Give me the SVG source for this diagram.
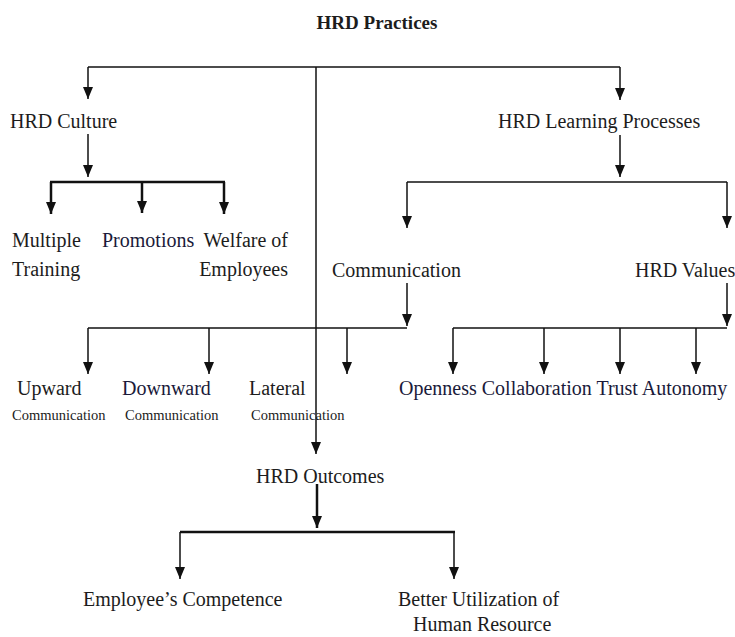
<svg xmlns="http://www.w3.org/2000/svg" width="735" height="637" viewBox="0 0 735 637">
<defs>
<marker id="ah" viewBox="0 0 12 10" refX="12" refY="5" markerWidth="12" markerHeight="10" markerUnits="userSpaceOnUse" orient="auto">
<path d="M0,0 L12,5 L0,10 z" fill="#111"/>
</marker>
<style>
text{font-family:'Liberation Serif','DejaVu Serif',serif;font-size:20px;fill:#1c1c1c}
.t{font-weight:bold;font-size:19px}
.s{font-size:14.5px}
.n{fill:#1a1a3a}
.c line,.c path{stroke:#111;stroke-width:1.5;fill:none}
.c .k{stroke-width:2.5}
.a{marker-end:url(#ah)}
</style>
</defs>
<rect width="735" height="637" fill="#fff"/>
<g class="c" id="connectors">
<line x1="88" y1="67" x2="620" y2="67"/>
<line class="a" x1="88" y1="67" x2="88" y2="99"/>
<line class="a" x1="620" y1="67" x2="620" y2="100"/>
<line class="a" x1="316" y1="67" x2="316" y2="454"/>
<line class="a" x1="88" y1="134" x2="88" y2="177"/>
<line class="k" x1="50" y1="182" x2="225" y2="182"/>
<line class="a k" x1="51" y1="182" x2="51" y2="214"/>
<line class="a k" x1="142" y1="182" x2="142" y2="213"/>
<line class="a k" x1="224" y1="182" x2="224" y2="214"/>
<line class="a" x1="620" y1="135" x2="620" y2="177"/>
<line x1="407" y1="182" x2="727" y2="182"/>
<line class="a" x1="407" y1="182" x2="407" y2="228"/>
<line class="a" x1="727" y1="182" x2="727" y2="228"/>
<line class="a" x1="407" y1="283" x2="407" y2="326"/>
<line x1="88" y1="328" x2="407" y2="328"/>
<line class="a" x1="88" y1="328" x2="88" y2="374"/>
<line class="a" x1="209" y1="328" x2="209" y2="374"/>
<line class="a" x1="347" y1="328" x2="347" y2="374"/>
<line class="a" x1="727" y1="283" x2="727" y2="326"/>
<line x1="453" y1="328" x2="727" y2="328"/>
<line class="a" x1="453" y1="328" x2="453" y2="374"/>
<line class="a" x1="544" y1="328" x2="544" y2="374"/>
<line class="a" x1="620" y1="328" x2="620" y2="374"/>
<line class="a" x1="696" y1="328" x2="696" y2="374"/>
<line class="a k" x1="317" y1="484" x2="317" y2="528"/>
<line class="k" x1="180" y1="532" x2="455" y2="532"/>
<line class="a" x1="180" y1="532" x2="180" y2="579"/>
<line class="a" x1="454" y1="532" x2="454" y2="579"/>
</g>
<g id="title"><text class="t" x="377" y="29" text-anchor="middle">HRD Practices</text></g>
<g id="hrd-culture"><text x="10" y="128">HRD Culture</text></g>
<g id="hrd-learning"><text x="498" y="128">HRD Learning Processes</text></g>
<g id="multiple-training"><text x="12" y="247">Multiple</text><text x="12" y="276">Training</text></g>
<g id="promotions"><text class="n" x="102" y="247">Promotions</text></g>
<g id="welfare"><text x="288" y="247" text-anchor="end">Welfare of</text><text x="288" y="276" text-anchor="end">Employees</text></g>
<g id="communication"><text x="332" y="277">Communication</text></g>
<g id="hrd-values"><text x="635" y="277">HRD Values</text></g>
<g id="upward"><text x="17" y="395">Upward</text><text class="s" x="12" y="420">Communication</text></g>
<g id="downward"><text class="n" x="122" y="395">Downward</text><text class="s" x="125" y="420">Communication</text></g>
<g id="lateral"><text x="249" y="395">Lateral</text><text class="s" x="251" y="420">Communication</text></g>
<g id="values-list"><text class="n" x="399" y="395">Openness Collaboration Trust Autonomy</text></g>
<g id="hrd-outcomes"><text x="256" y="483">HRD Outcomes</text></g>
<g id="competence"><text x="83" y="606">Employee’s Competence</text></g>
<g id="utilization"><text x="398" y="606">Better Utilization of</text><text x="413" y="631">Human Resource</text></g>
</svg>
